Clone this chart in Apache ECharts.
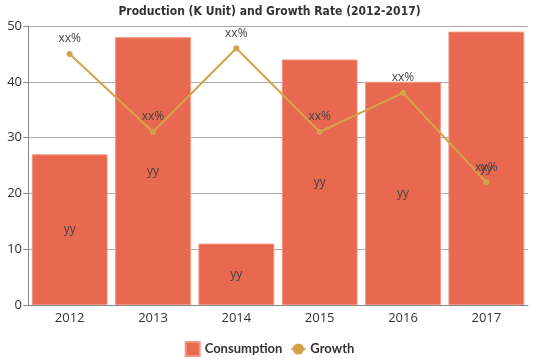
<!DOCTYPE html>
<html><head><meta charset="utf-8">
<script src="https://cdn.jsdelivr.net/npm/echarts@6/dist/echarts.min.js"></script>
<style>html,body{margin:0;padding:0;background:#fff}#c{width:539px;height:359px}</style>
</head><body><div id="c"></div>
<script>
const categories = ['2012','2013','2014','2015','2016','2017'];
const consumption = [27, 48, 11, 44, 40, 49];
const growth = [45, 31, 46, 31, 38, 22];
const yTicks = [0, 10, 20, 30, 40, 50];

const chart = echarts.init(document.getElementById('c'));
chart.setOption({
  animation: false,
  title: {
    text: 'Production (K Unit) and Growth Rate (2012-2017)',
    left: 'center', top: 1,
    textStyle: {fontFamily: 'DejaVu Sans Condensed', fontWeight: 'bold', fontSize: 12, color: '#333'}
  },
  legend: {
    top: 336, left: 'center', itemWidth: 14, itemHeight: 14, itemGap: 8,
    textStyle: {fontFamily: 'Lato', fontWeight: 'bold', fontSize: 13, color: '#333'},
    data: [{name: 'Consumption', icon: 'rect'}, {name: 'Growth'}]
  },
  grid: {left: 28, right: 11, top: 26, bottom: 54},
  xAxis: {
    type: 'category', data: categories,
    axisLine: {lineStyle: {color: '#888'}},
    axisTick: {alignWithLabel: true, lineStyle: {color: '#888'}},
    axisLabel: {color: '#333', fontSize: 13, fontFamily: 'Open Sans', margin: 7}
  },
  yAxis: {
    type: 'value', min: yTicks[0], max: yTicks[yTicks.length-1], interval: 10,
    axisLine: {show: true, lineStyle: {color: '#888'}},
    axisTick: {show: true, lineStyle: {color: '#888'}},
    axisLabel: {color: '#333', fontSize: 13, fontFamily: 'Open Sans', margin: 6},
    splitLine: {lineStyle: {color: '#aaa'}}
  },
  series: [
    {
      name: 'Consumption', type: 'bar', data: consumption, barCategoryGap: '9%',
      itemStyle: {color: '#E8694F', borderColor: '#F2957F', borderWidth: 1},
      label: {show: true, position: 'inside', formatter: 'yy', color: '#444', fontSize: 12, fontFamily: 'Open Sans'}
    },
    {
      name: 'Growth', type: 'line', data: growth, symbol: 'circle', symbolSize: 6,
      itemStyle: {color: '#D4A24C'}, lineStyle: {color: '#D4A24C', width: 2},
      label: {show: true, position: 'top', formatter: 'xx%', color: '#444', fontSize: 12, fontFamily: 'Open Sans', distance: 6}
    }
  ]
});
</script></body></html>
